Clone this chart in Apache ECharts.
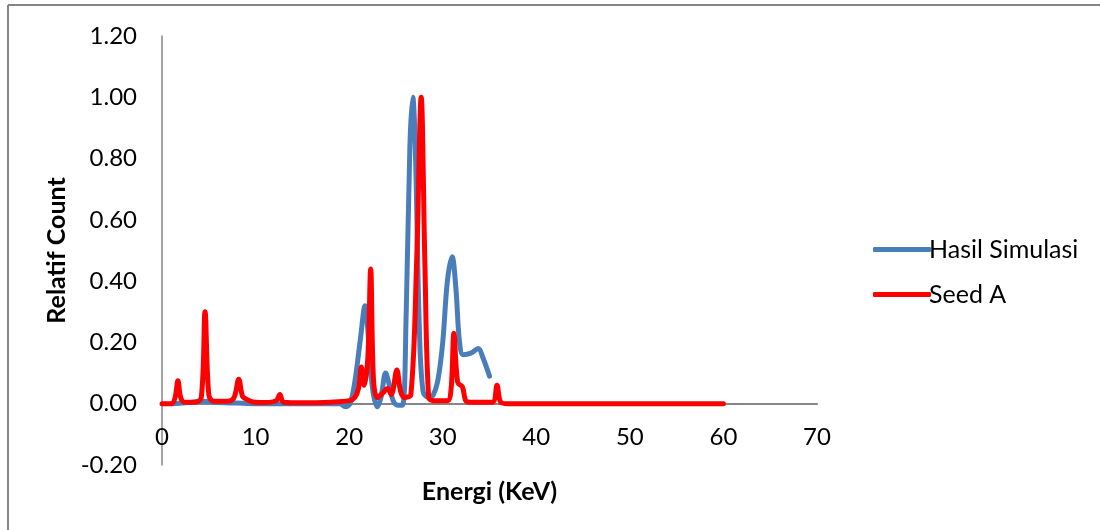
<!DOCTYPE html>
<html>
<head>
<meta charset="utf-8">
<script src="https://cdn.jsdelivr.net/npm/echarts@6/dist/echarts.min.js"></script>
<style>
html,body{margin:0;padding:0;background:#fff;}
#c{width:1100px;height:530px;}
</style>
</head>
<body>
<div id="c"></div>
<script>
// Series names
var seriesNames = ["Hasil Simulasi", "Seed A"];
// Axis tick values
var yTicks = [-0.2, 0, 0.2, 0.4, 0.6, 0.8, 1.0, 1.2];
var xTicks = [0, 10, 20, 30, 40, 50, 60, 70];

// Hasil Simulasi: [energy keV, relative count]
var hasilSimulasi = [
  [1,0.0],[2.5,0.003],[4.5,0.008],[6,0.004],[8,0.002],[10,0.0],[13,0.0],[16,0.0],[19,0.0],
  [19.6,-0.01],[20.1,0.0],[20.6,0.07],[21.2,0.21],[21.7,0.32],[22.1,0.2],[22.5,0.05],
  [23.0,-0.01],[23.4,0.02],[23.9,0.1],[24.3,0.06],[24.7,0.01],[25.2,-0.005],[25.7,-0.005],
  [26.1,0.3],[26.5,0.85],[26.8,1.0],[27.1,0.8],[27.5,0.25],[27.9,0.04],[28.5,0.02],
  [29.0,0.03],[29.5,0.08],[30.0,0.2],[30.5,0.4],[31.0,0.48],[31.4,0.38],[31.8,0.2],
  [32.2,0.16],[33.0,0.165],[33.8,0.18],[34.3,0.15],[35.0,0.09]
];

// Seed A: [energy keV, relative count]
var seedA = [
  [0,0.0],[1.0,0.0],[1.4,0.02],[1.7,0.075],[2.0,0.02],[2.4,0.005],[3.5,0.005],
  [4.2,0.02],[4.6,0.30],[5.0,0.03],[5.5,0.008],[7.0,0.008],[7.7,0.02],[8.2,0.08],
  [8.6,0.025],[9.0,0.015],[9.5,0.008],[10,0.005],[11,0.004],[12.2,0.01],[12.6,0.03],
  [13.0,0.005],[15,0.003],[18,0.005],[20,0.01],[20.6,0.02],[21.0,0.05],[21.3,0.12],
  [21.6,0.06],[22.0,0.15],[22.3,0.44],[22.6,0.08],[23.0,0.02],[23.6,0.035],[24.1,0.05],
  [24.5,0.03],[25.1,0.11],[25.5,0.04],[25.9,0.02],[26.6,0.03],[27.2,0.45],[27.7,1.0],
  [28.1,0.45],[28.5,0.02],[29,0.01],[30.5,0.01],[30.9,0.05],[31.2,0.23],[31.6,0.07],
  [32.1,0.055],[32.5,0.008],[33,0.005],[35.3,0.005],[35.8,0.06],[36.2,0.005],[37,0.0],[60,0.0]
];

var FONT = 'Lato';
var chart = echarts.init(document.getElementById('c'));
chart.setOption({
  backgroundColor: '#ffffff',
  animation: false,
  textStyle: { fontFamily: FONT },
  graphic: [
    { type: 'line', shape: { x1: 8, y1: 5, x2: 1100, y2: 5 },
      style: { stroke: '#868686', lineWidth: 2 }, silent: true },
    { type: 'line', shape: { x1: 8, y1: 5, x2: 8, y2: 530 },
      style: { stroke: '#868686', lineWidth: 2 }, silent: true }
  ],
  grid: { left: 162, right: 283, top: 36, bottom: 65, outerBoundsMode: 'none', containLabel: false },
  legend: {
    orient: 'vertical',
    left: 868,
    top: 232,
    icon: 'roundRect',
    itemWidth: 58,
    itemHeight: 5,
    itemGap: 20,
    textStyle: { fontFamily: FONT, fontSize: 25, color: '#000', padding: [0,0,0,-7] },
    data: seriesNames
  },
  xAxis: {
    type: 'value',
    position: 'bottom',
    offset: -61,
    min: xTicks[0], max: xTicks[xTicks.length-1], interval: 10,
    name: 'Energi (KeV)',
    nameLocation: 'middle',
    nameGap: 75,
    nameTextStyle: { fontFamily: FONT, fontSize: 25, fontWeight: 'bold', color: '#000' },
    axisLine: { onZero: false, lineStyle: { color: '#868686', width: 2 } },
    axisTick: { show: false },
    axisLabel: { margin: 21, fontSize: 24, color: '#000', fontFamily: FONT },
    splitLine: { show: false }
  },
  yAxis: {
    type: 'value',
    min: yTicks[0], max: yTicks[yTicks.length-1], interval: 0.2,
    name: 'Relatif Count',
    nameLocation: 'middle',
    nameGap: 81,
    nameRotate: 90,
    nameTextStyle: { fontFamily: FONT, fontSize: 25, fontWeight: 'bold', color: '#000' },
    axisLine: { show: true, onZero: false, lineStyle: { color: '#868686', width: 1.5 } },
    axisTick: { show: false },
    axisLabel: { margin: 25, fontSize: 24, color: '#000', fontFamily: FONT,
      formatter: function (v) { return v.toFixed(2); } },
    splitLine: { show: false }
  },
  series: [
    {
      name: seriesNames[0], type: 'line', data: hasilSimulasi,
      smooth: 0.35, symbol: 'none',
      lineStyle: { color: '#4A7EBB', width: 5, cap: 'round', join: 'round' },
      itemStyle: { color: '#4A7EBB' }
    },
    {
      name: seriesNames[1], type: 'line', data: seedA,
      smooth: 0.35, symbol: 'none',
      lineStyle: { color: '#FF0000', width: 5, cap: 'round', join: 'round' },
      itemStyle: { color: '#FF0000' }
    }
  ]
});
</script>
</body>
</html>
